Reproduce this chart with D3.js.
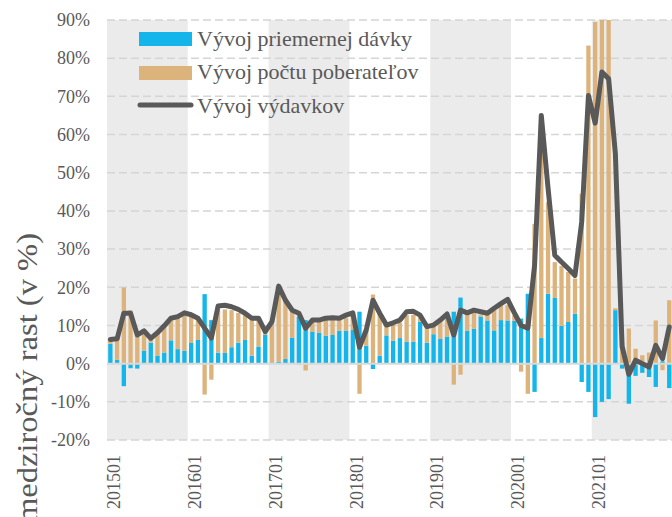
<!DOCTYPE html>
<html>
<head>
<meta charset="utf-8">
<script src="https://cdn.jsdelivr.net/npm/d3@7/dist/d3.min.js"></script>
<style>
  body { margin: 0; background: #fff; }
  svg { display: block; font-family: "Liberation Serif", "DejaVu Serif", serif; }
</style>
</head>
<body>
<div id="chart"></div>
<script>
// years shown on the axis, one gray band for every other year
const years = [2015, 2016, 2017, 2018, 2019, 2020, 2021];
const tickLabels = ["201501", "201601", "201701", "201801", "201901", "202001", "202101"];
const yTicks = [-20, -10, 0, 10, 20, 30, 40, 50, 60, 70, 80, 90];

// Vývoj priemernej dávky (%)
const avgBenefit = [
  5.2, 1.0, -5.9, -1.2, -1.3, 3.4, 5.5, 2.1, 2.9, 6.1, 3.8, 3.4,
  5.4, 6.2, 18.2, 11.4, 2.9, 2.8, 4.3, 5.5, 6.2, 2.1, 4.5, 7.5,
  0.3, 0.5, 1.2, 6.8, 12.3, 11.4, 8.4, 8.1, 7.3, 7.5, 8.6, 8.6,
  8.8, 13.6, 4.7, -1.4, 2.1, 7.4, 6.0, 6.7, 5.8, 5.8, 11.0, 5.5,
  7.7, 6.5, 7.1, 13.6, 17.3, 8.6, 9.1, 12.3, 11.3, 8.7, 11.4, 11.3,
  11.2, 11.8, 18.3, -7.4, 6.7, 18.3, 17.2, 9.9, 10.9, 13.1, -4.8, -7.4,
  -14.0, -10.0, -9.3, 14.0, -1.3, -10.5, -3.2, -2.4, -3.5, -6.1, 0.6, -6.4
];

// Vývoj počtu poberateľov (%)
const recipients = [
  1.2, 5.5, 19.9, 14.0, 8.5, 5.0, 1.0, 5.8, 6.8, 5.3, 8.1, 9.8,
  6.9, 5.2, -8.1, -4.2, 11.1, 11.4, 9.7, 7.8, 6.5, 9.3, 7.0, 0.8,
  10.5, 19.5, 15.8, 7.2, -0.3, -1.8, 2.6, 3.2, 4.6, 4.8, 2.8, 3.3,
  4.5, -7.9, 4.0, 18.1, 11.0, 2.7, 4.2, 4.0, 6.9, 7.0, 1.5, 4.2,
  2.4, 4.5, 5.2, -5.5, -2.9, 4.6, 4.5, 0.5, 1.5, 5.3, 3.9, 4.0,
  1.5, -2.1, -7.9, 36.6, 50.0, 24.0, 9.4, 15.7, 13.1, 9.2, 44.5, 83.3,
  89.5, 96.0, 96.0, 0.5, 5.5, 9.2, 3.9, 2.2, 2.9, 11.3, -1.7, 16.6
];

// Vývoj výdavkov (%)
const spending = [
  6.3, 6.5, 13.2, 13.2, 7.5, 8.6, 6.6, 8.1, 9.9, 11.9, 12.3, 13.3,
  12.8, 11.9, 9.3, 6.7, 15.1, 15.3, 14.9, 14.2, 13.2, 11.9, 11.9, 8.4,
  11.0, 20.3, 16.6, 14.0, 13.2, 9.3, 11.4, 11.4, 11.9, 12.0, 11.9, 12.7,
  13.3, 4.3, 8.8, 16.6, 13.2, 10.1, 10.7, 11.4, 13.6, 13.7, 12.7, 9.7,
  10.1, 11.4, 13.0, 7.5, 14.0, 13.3, 14.0, 13.6, 13.2, 14.5, 15.7, 16.8,
  13.3, 10.0, 9.3, 25.7, 65.0, 46.0, 28.4, 26.6, 24.9, 23.1, 37.1, 70.2,
  63.0, 76.4, 74.6, 55.0, 4.5, -2.8, 0.9, 0.0, -0.9, 4.8, 1.3, 9.6
];

const seriesNames = ["Vývoj priemernej dávky", "Vývoj počtu poberateľov", "Vývoj výdavkov"];
const colors = ["#13B5EA", "#DDB37C", "#595959"];

const width = 672, height = 517;
const plotLeft = 107, plotRight = 672.6, plotTop = 20, plotBottom = 440;

const months = [];
years.forEach(yr => { for (let m = 1; m <= 12; m++) months.push(`${yr}${m < 10 ? "0" + m : m}`); });

const rows = months.map((m, i) => ({ m, blue: avgBenefit[i], tan: recipients[i] }));

const svg = d3.select("#chart").append("svg")
  .attr("width", width)
  .attr("height", height);

const x = d3.scaleBand().domain(months).range([plotLeft, plotRight]).paddingInner(0.36).paddingOuter(0.18);
const y = d3.scaleLinear().domain([-20, 90]).range([plotBottom, plotTop]);
const slot = x.step();
const slotStart = m => x(m) - slot * x.paddingInner() / 2;

svg.append("clipPath").attr("id", "plot")
  .append("rect").attr("x", plotLeft).attr("y", plotTop)
  .attr("width", plotRight - plotLeft).attr("height", plotBottom - plotTop);

// gray bands for every other year
svg.append("g").selectAll("rect")
  .data(years.filter((d, i) => i % 2 === 0))
  .join("rect")
  .attr("x", d => slotStart(d + "01"))
  .attr("y", plotTop)
  .attr("width", d => Math.min(slot * 12, plotRight - slotStart(d + "01")))
  .attr("height", plotBottom - plotTop)
  .attr("fill", "#EBEBEB");

// gridlines
svg.append("g").selectAll("line")
  .data(yTicks.filter(d => d !== 0))
  .join("line")
  .attr("x1", plotLeft).attr("x2", plotRight)
  .attr("y1", d => y(d)).attr("y2", d => y(d))
  .attr("stroke", "#D5D5D5")
  .attr("stroke-width", 1.5)
  .attr("stroke-dasharray", "8,4");

// stacked bars
const stack = d3.stack().keys(["blue", "tan"]).offset(d3.stackOffsetDiverging);
const layers = stack(rows);

svg.append("g").attr("clip-path", "url(#plot)")
  .selectAll("g")
  .data(layers)
  .join("g")
  .attr("fill", (d, i) => colors[i])
  .selectAll("rect")
  .data(d => d)
  .join("rect")
  .attr("x", d => x(d.data.m))
  .attr("width", x.bandwidth())
  .attr("y", d => y(Math.max(d[0], d[1])))
  .attr("height", d => Math.abs(y(d[0]) - y(d[1])));

// zero line
svg.append("line")
  .attr("x1", plotLeft).attr("x2", plotRight)
  .attr("y1", y(0)).attr("y2", y(0))
  .attr("stroke", "#D9D9D9")
  .attr("stroke-width", 2);

// expenditure line
const line = d3.line()
  .x((d, i) => x(months[i]) + x.bandwidth() / 2)
  .y(d => y(d));

svg.append("path")
  .attr("clip-path", "url(#plot)")
  .attr("d", line(spending))
  .attr("fill", "none")
  .attr("stroke", colors[2])
  .attr("stroke-width", 5)
  .attr("stroke-linejoin", "round")
  .attr("stroke-linecap", "round");

// y tick labels
svg.append("g").selectAll("text")
  .data(yTicks)
  .join("text")
  .attr("x", 90)
  .attr("y", d => y(d))
  .attr("dy", "0.35em")
  .attr("text-anchor", "end")
  .attr("font-size", 18)
  .attr("fill", "#595959")
  .text(d => d + "%");

// x tick labels
svg.append("g").selectAll("text")
  .data(tickLabels)
  .join("text")
  .attr("transform", d => `translate(${x(d) + x.bandwidth() / 2 + 3.5},455) rotate(-90)`)
  .attr("dy", "0.35em")
  .attr("text-anchor", "end")
  .attr("font-size", 18)
  .attr("fill", "#595959")
  .text(d => d);

// y axis title
svg.append("text")
  .attr("transform", "translate(37,233) rotate(-90)")
  .attr("text-anchor", "end")
  .attr("font-size", 29)
  .attr("textLength", 290)
  .attr("lengthAdjust", "spacingAndGlyphs")
  .attr("fill", "#595959")
  .text("medziročný rast (v %)");

// legend
const legend = svg.append("g");
[0, 1].forEach(i => {
  legend.append("rect")
    .attr("x", 139).attr("y", 32 + i * 34)
    .attr("width", 53).attr("height", 14)
    .attr("fill", colors[i]);
});
legend.append("line")
  .attr("x1", 140).attr("x2", 191)
  .attr("y1", 105).attr("y2", 105)
  .attr("stroke", colors[2])
  .attr("stroke-width", 5)
  .attr("stroke-linecap", "round");
legend.selectAll("text")
  .data(seriesNames)
  .join("text")
  .attr("x", 197)
  .attr("y", (d, i) => 45.5 + i * 33.5)
  .attr("font-size", 22)
  .attr("fill", "#595959")
  .text(d => d);
</script>
</body>
</html>
